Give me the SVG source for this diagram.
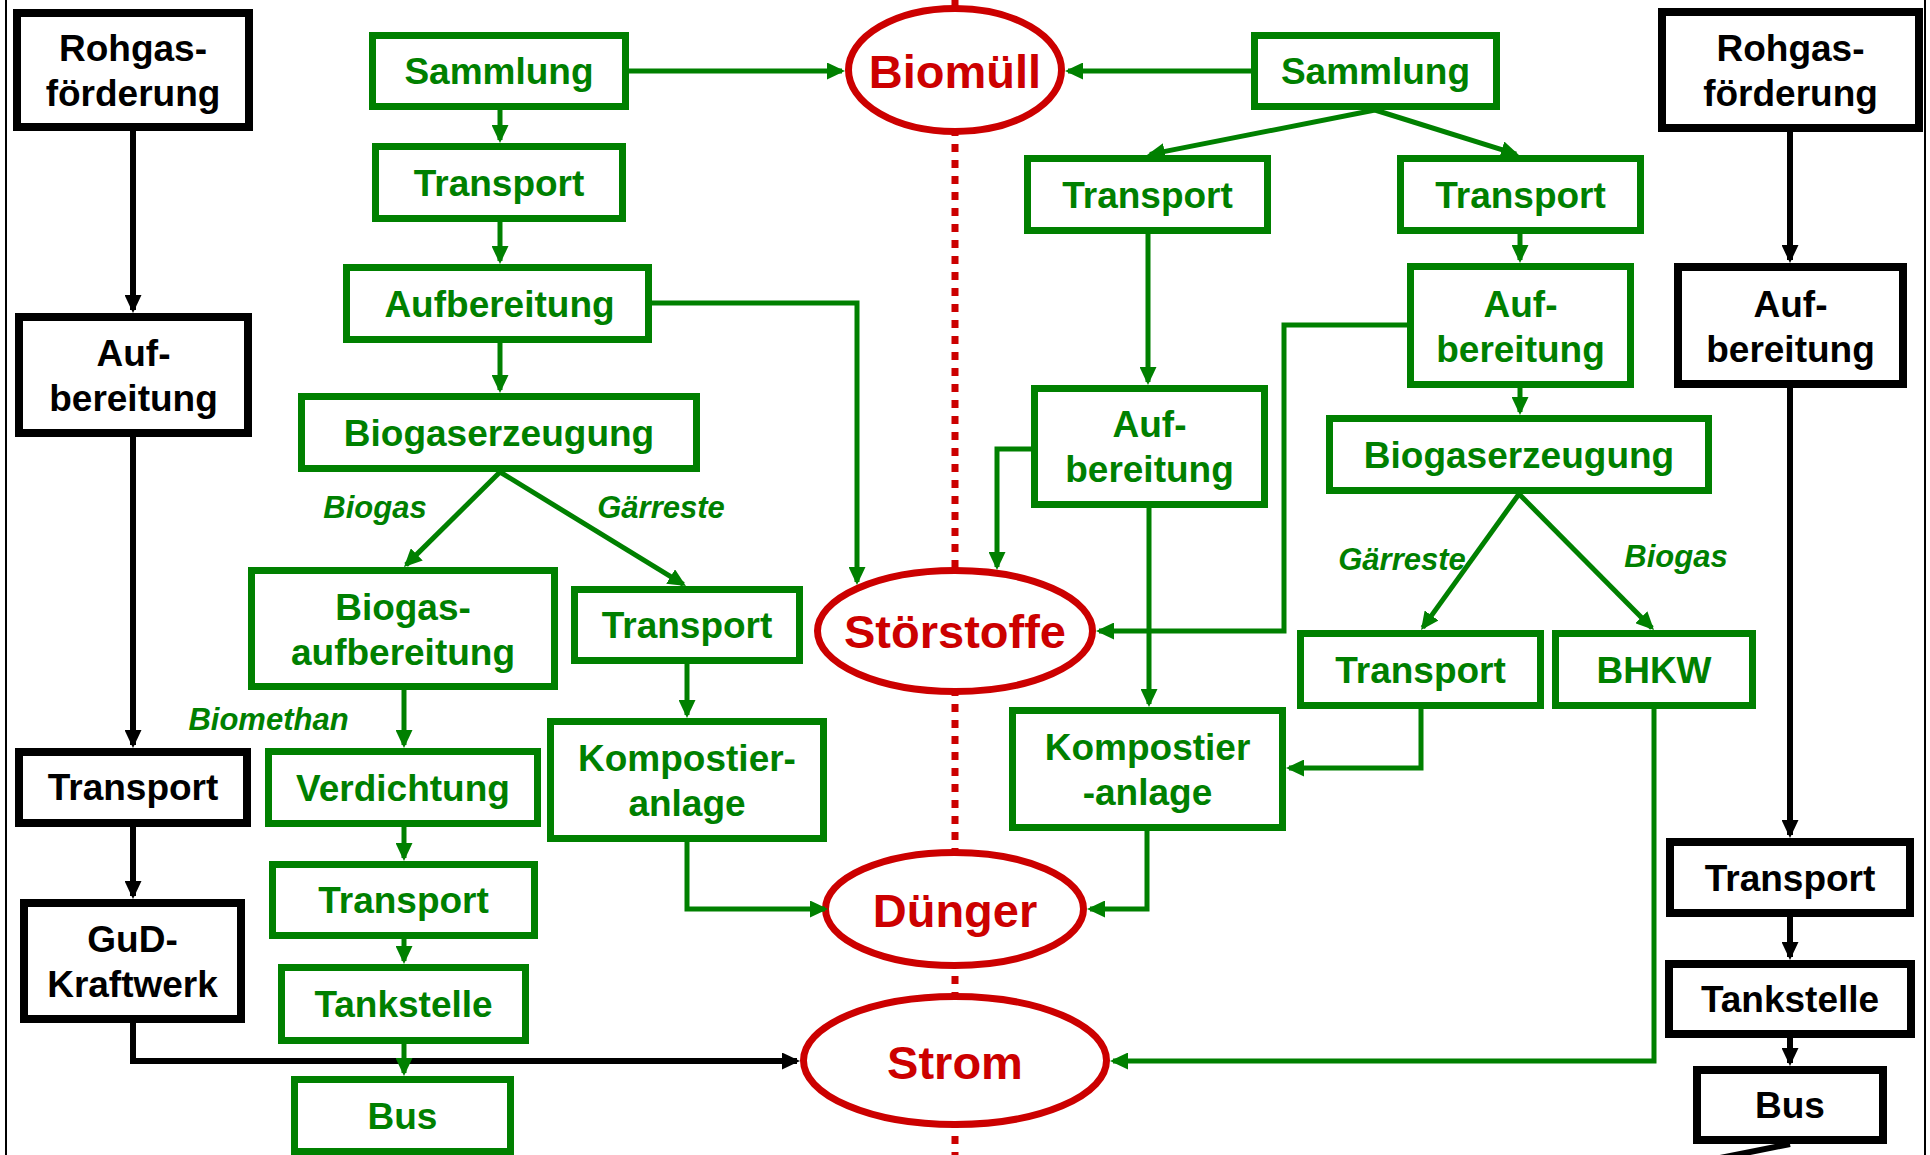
<svg xmlns="http://www.w3.org/2000/svg" width="1930" height="1155" viewBox="0 0 1930 1155">
<defs>
<marker id="ag" markerUnits="userSpaceOnUse" markerWidth="18" markerHeight="17" refX="15" refY="8.5" orient="auto"><path d="M0,0 L18,8.5 L0,17 z" fill="#008000"/></marker>
<marker id="ak" markerUnits="userSpaceOnUse" markerWidth="18" markerHeight="17" refX="15" refY="8.5" orient="auto"><path d="M0,0 L18,8.5 L0,17 z" fill="#000"/></marker>
<style>
.gb{fill:#fff;stroke:#008000;stroke-width:7}
.kb{fill:#fff;stroke:#000;stroke-width:8}
.el{fill:#fff;stroke:#cc0000;stroke-width:7}
text{font-family:"Liberation Sans",Arial,Helvetica,sans-serif;font-weight:bold;text-anchor:middle}
.gt{fill:#008000;font-size:37px}
.kt{fill:#000;font-size:37px}
.rt{fill:#cc0000;font-size:47px}
.it{fill:#008000;font-size:31px;font-style:italic}
.g{fill:none;stroke:#008000;stroke-width:5;marker-end:url(#ag)}
.gn{fill:none;stroke:#008000;stroke-width:5}
.k{fill:none;stroke:#000;stroke-width:6;marker-end:url(#ak)}
.kn{fill:none;stroke:#000;stroke-width:6}
</style>
</defs>
<rect width="1930" height="1155" fill="#fff"/>
<line x1="6" y1="0" x2="6" y2="1155" stroke="#000" stroke-width="2"/>
<line x1="1925" y1="0" x2="1925" y2="1155" stroke="#000" stroke-width="2"/>
<line x1="955" y1="0" x2="955" y2="1155" stroke="#cc0000" stroke-width="7" stroke-dasharray="8 8"/>

<g id="nodes">
<g id="n-rohgas-l"><rect class="kb" x="17" y="13" width="232" height="114"/><text class="kt" x="133" y="61">Rohgas-</text><text class="kt" x="133" y="106">förderung</text></g>
<g id="n-auf-l-black"><rect class="kb" x="19" y="317" width="229" height="116"/><text class="kt" x="133.5" y="366">Auf-</text><text class="kt" x="133.5" y="411">bereitung</text></g>
<g id="n-transport-l-black"><rect class="kb" x="19" y="752" width="228" height="71"/><text class="kt" x="133" y="800">Transport</text></g>
<g id="n-gud"><rect class="kb" x="24" y="903" width="217" height="116"/><text class="kt" x="132.5" y="952">GuD-</text><text class="kt" x="132.5" y="997">Kraftwerk</text></g>

<g id="n-sammlung-l"><rect class="gb" x="372.5" y="35.5" width="253" height="71"/><text class="gt" x="499" y="84">Sammlung</text></g>
<g id="n-transport-l1"><rect class="gb" x="375.5" y="146.5" width="247" height="72"/><text class="gt" x="499" y="195.5">Transport</text></g>
<g id="n-aufbereitung-l"><rect class="gb" x="346.5" y="267.5" width="302" height="72"/><text class="gt" x="499.5" y="316.5">Aufbereitung</text></g>
<g id="n-biogaserz-l"><rect class="gb" x="301.5" y="396.5" width="395" height="72"/><text class="gt" x="499" y="445.5">Biogaserzeugung</text></g>
<g id="n-biogasauf"><rect class="gb" x="251.5" y="570.5" width="303" height="116"/><text class="gt" x="403" y="619.5">Biogas-</text><text class="gt" x="403" y="664.5">aufbereitung</text></g>
<g id="n-transport-l2"><rect class="gb" x="574.5" y="589.5" width="225" height="71"/><text class="gt" x="687" y="638">Transport</text></g>
<g id="n-kompost-l"><rect class="gb" x="550.5" y="721.5" width="273" height="117"/><text class="gt" x="687" y="771">Kompostier-</text><text class="gt" x="687" y="816">anlage</text></g>
<g id="n-verdichtung"><rect class="gb" x="268.5" y="751.5" width="269" height="72"/><text class="gt" x="403" y="800.5">Verdichtung</text></g>
<g id="n-transport-l3"><rect class="gb" x="272.5" y="864.5" width="262" height="71"/><text class="gt" x="403.5" y="913">Transport</text></g>
<g id="n-tankstelle-l"><rect class="gb" x="281.5" y="967.5" width="244" height="73"/><text class="gt" x="403.5" y="1017">Tankstelle</text></g>
<g id="n-bus-l"><rect class="gb" x="294.5" y="1079.5" width="216" height="72"/><text class="gt" x="402.5" y="1128.5">Bus</text></g>

<g id="n-biomuell"><ellipse class="el" cx="955" cy="70" rx="106.5" ry="61.5"/><text class="rt" x="955" y="88">Biomüll</text></g>
<g id="n-stoerstoffe"><ellipse class="el" cx="955" cy="631" rx="137.5" ry="60.5"/><text class="rt" x="955" y="648">Störstoffe</text></g>
<g id="n-duenger"><ellipse class="el" cx="954.5" cy="909" rx="129" ry="56.5"/><text class="rt" x="955" y="927">Dünger</text></g>
<g id="n-strom"><ellipse class="el" cx="955" cy="1060.5" rx="151.5" ry="64"/><text class="rt" x="955" y="1079">Strom</text></g>

<g id="n-sammlung-r"><rect class="gb" x="1254.5" y="35.5" width="242" height="71"/><text class="gt" x="1375.5" y="84">Sammlung</text></g>
<g id="n-transport-r1"><rect class="gb" x="1027.5" y="158.5" width="240" height="72"/><text class="gt" x="1147.5" y="207.5">Transport</text></g>
<g id="n-transport-r2"><rect class="gb" x="1400.5" y="158.5" width="240" height="72"/><text class="gt" x="1520.5" y="207.5">Transport</text></g>
<g id="n-auf-r1"><rect class="gb" x="1034.5" y="388.5" width="230" height="116"/><text class="gt" x="1149.5" y="437">Auf-</text><text class="gt" x="1149.5" y="482">bereitung</text></g>
<g id="n-auf-r2"><rect class="gb" x="1410.5" y="266.5" width="220" height="118"/><text class="gt" x="1520.5" y="316.5">Auf-</text><text class="gt" x="1520.5" y="361.5">bereitung</text></g>
<g id="n-biogaserz-r"><rect class="gb" x="1329.5" y="418.5" width="379" height="72"/><text class="gt" x="1519" y="467.5">Biogaserzeugung</text></g>
<g id="n-transport-r3"><rect class="gb" x="1300.5" y="633.5" width="240" height="72"/><text class="gt" x="1420.5" y="682.5">Transport</text></g>
<g id="n-bhkw"><rect class="gb" x="1555.5" y="633.5" width="197" height="72"/><text class="gt" x="1654" y="682.5">BHKW</text></g>
<g id="n-kompost-r"><rect class="gb" x="1012.5" y="710.5" width="270" height="117"/><text class="gt" x="1147.5" y="760">Kompostier</text><text class="gt" x="1147.5" y="805">-anlage</text></g>

<g id="n-rohgas-r"><rect class="kb" x="1662" y="12" width="257" height="116"/><text class="kt" x="1790.5" y="61">Rohgas-</text><text class="kt" x="1790.5" y="106">förderung</text></g>
<g id="n-auf-r-black"><rect class="kb" x="1678" y="267" width="225" height="117"/><text class="kt" x="1790.5" y="316.5">Auf-</text><text class="kt" x="1790.5" y="361.5">bereitung</text></g>
<g id="n-transport-r-black"><rect class="kb" x="1670" y="842" width="240" height="71"/><text class="kt" x="1790" y="890.5">Transport</text></g>
<g id="n-tankstelle-r"><rect class="kb" x="1669" y="964" width="242" height="70"/><text class="kt" x="1790" y="1012">Tankstelle</text></g>
<g id="n-bus-r"><rect class="kb" x="1697" y="1070" width="186" height="70"/><text class="kt" x="1790" y="1118">Bus</text></g>
</g>

<g id="connectors">
<path class="k" d="M133,131 V310"/>
<path class="k" d="M133,437 V745"/>
<path class="k" d="M133,827 V896"/>
<path class="k" d="M133,1023 V1061 H797"/>
<path class="k" d="M1790,132 V260"/>
<path class="k" d="M1790,388 V835"/>
<path class="k" d="M1790,917 V957"/>
<path class="k" d="M1790,1038 V1063"/>
<path class="kn" d="M1790,1144 L1700,1162"/>

<path class="g" d="M629,71 H842"/>
<path class="g" d="M500,110 V140"/>
<path class="g" d="M500,222 V261"/>
<path class="g" d="M500,343 V390"/>
<path class="g" d="M652,303 H857 V582"/>
<path class="g" d="M500,472 L406.1,564.9"/>
<path class="g" d="M500,472 L683.4,584.4"/>
<path class="g" d="M404,690 V745"/>
<path class="g" d="M687,664 V715"/>
<path class="g" d="M404,827 V858"/>
<path class="g" d="M404,939 V961"/>
<path class="g" d="M404,1044 V1073"/>
<path class="g" d="M687,842 V909 H825"/>

<path class="g" d="M1251,71 H1068"/>
<path class="g" d="M1375,110 L1149.9,154.4"/>
<path class="g" d="M1375,110 L1516.1,154.1"/>
<path class="g" d="M1148,234 V382"/>
<path class="g" d="M1520,234 V260"/>
<path class="g" d="M1520,388 V412"/>
<path class="g" d="M1031,449 H997 V567"/>
<path class="g" d="M1149,508 V704"/>
<path class="g" d="M1407,325 H1284 V631 H1099"/>
<path class="g" d="M1519,494 L1422.8,627.6"/>
<path class="g" d="M1519,494 L1651.9,627.9"/>
<path class="g" d="M1421,709 V768 H1289"/>
<path class="g" d="M1654,709 V1061 H1113"/>
<path class="g" d="M1147,831 V909 H1090"/>
</g>

<g id="labels">
<text class="it" x="375" y="518">Biogas</text>
<text class="it" x="661" y="518">Gärreste</text>
<text class="it" x="268.5" y="730">Biomethan</text>
<text class="it" x="1402" y="570">Gärreste</text>
<text class="it" x="1676" y="567">Biogas</text>
</g>
</svg>
